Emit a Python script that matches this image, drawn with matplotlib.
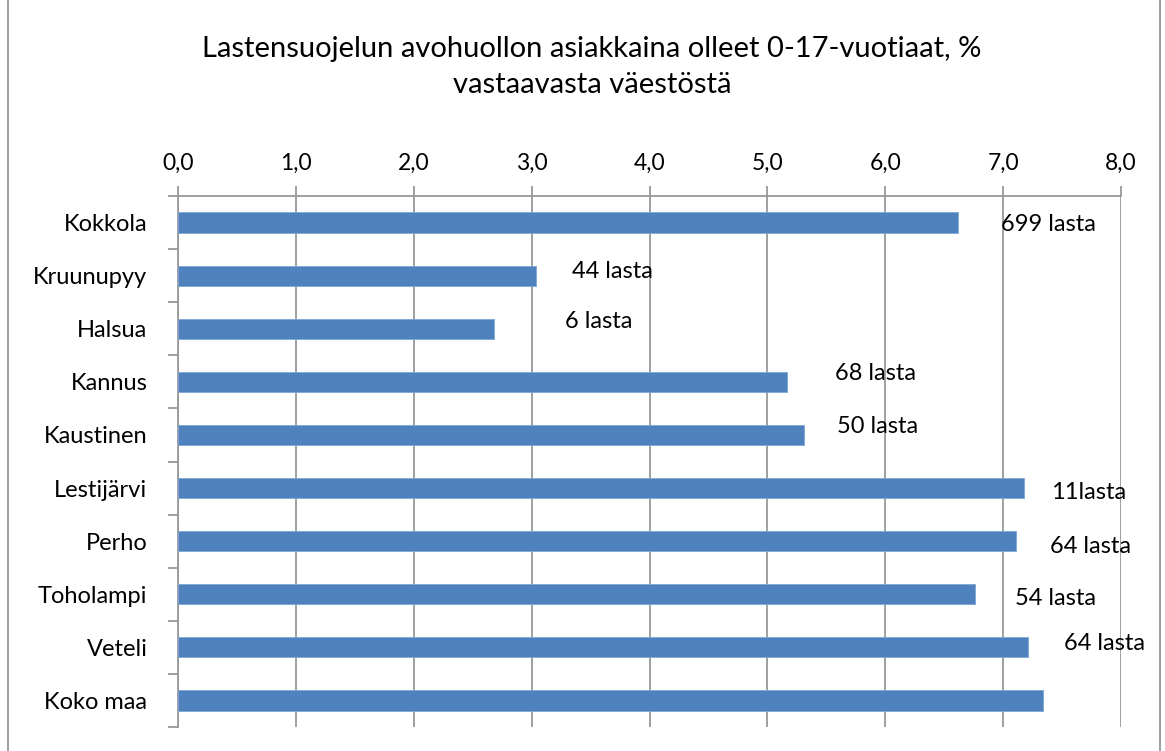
import matplotlib
matplotlib.use('Agg')
import matplotlib.pyplot as plt
from matplotlib.patches import Rectangle

# Data
kunnat = ['Kokkola', 'Kruunupyy', 'Halsua', 'Kannus', 'Kaustinen',
          'Lestijärvi', 'Perho', 'Toholampi', 'Veteli', 'Koko maa']
osuus = [6.62, 3.04, 2.68, 5.17, 5.31, 7.18, 7.11, 6.76, 7.21, 7.34]
lapset = ['699 lasta', '44 lasta', '6 lasta', '68 lasta', '50 lasta',
          '11lasta', '64 lasta', '54 lasta', '64 lasta', '']
xticks = [0, 1, 2, 3, 4, 5, 6, 7, 8]

# hand-placed label offsets (data units, category units)
label_dx = [0.36, 0.30, 0.60, 0.40, 0.28, 0.23, 0.29, 0.34, 0.31, 0]
label_dy = [0.04, -0.08, -0.13, -0.15, -0.15, 0.09, 0.11, 0.08, -0.08, 0]

plt.rcParams['font.family'] = ['Lato', 'DejaVu Sans']
grid_col = '#989898'
bar_col = '#4f81bd'

fig = plt.figure(figsize=(11.65, 7.51), dpi=100)
ax = fig.add_axes([178 / 1165, 1 - 727 / 751, (1121 - 178) / 1165, (727 - 196) / 751])

y = list(range(len(kunnat)))
ax.barh(y, osuus, height=0.38, color=bar_col, edgecolor='#7ea6d8', linewidth=0.6, zorder=3)

for i, txt in enumerate(lapset):
    if txt:
        ax.text(osuus[i] + label_dx[i], i + label_dy[i], txt, va='center', ha='left',
                fontsize=17, color='black', zorder=4)

ax.set_xlim(0, 8)
ax.set_ylim(len(kunnat) - 0.5, -0.5)
ax.xaxis.tick_top()
ax.set_xticks(xticks)
ax.set_xticklabels(['%d,0' % t for t in xticks], fontsize=16.5)
ax.tick_params(axis='x', length=7, color=grid_col, width=1.3, pad=9)
ax.set_yticks(y)
ax.set_yticklabels(kunnat, fontsize=17)
ax.set_yticks([i + 0.5 for i in range(-1, len(kunnat))], minor=True)
ax.tick_params(axis='y', which='major', length=0, pad=22)
ax.tick_params(axis='y', which='minor', length=7, color=grid_col, width=1.3)
ax.grid(axis='x', color=grid_col, linewidth=1.3, zorder=0)

for s in ['right', 'bottom']:
    ax.spines[s].set_visible(False)
for s in ['top', 'left']:
    ax.spines[s].set_color(grid_col)
    ax.spines[s].set_linewidth(1.3)

fig.text(0.508, 1 - 67 / 751, 'Lastensuojelun avohuollon asiakkaina olleet 0-17-vuotiaat, %\nvastaavasta väestöstä',
         ha='center', va='center', fontsize=21, linespacing=1.45)

# chart border
fig.patches.append(Rectangle((8 / 1165, -0.01), (1160 - 8) / 1165, 1.02, transform=fig.transFigure,
                             fill=False, edgecolor='#8c8c8c', linewidth=1.2))

fig.savefig('out.png', dpi=100)
